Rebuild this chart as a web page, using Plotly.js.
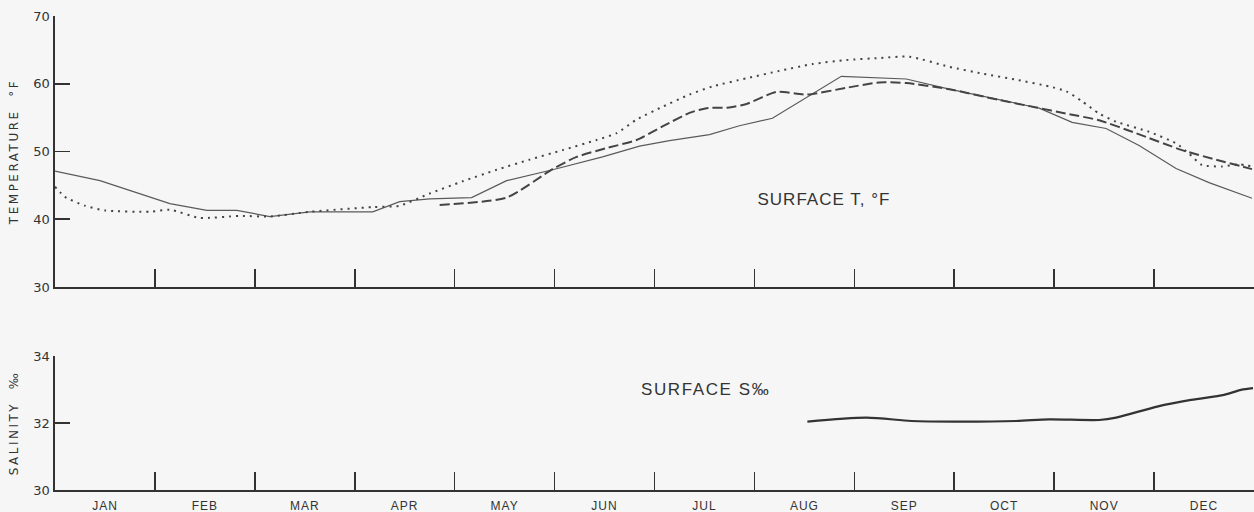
<!DOCTYPE html>
<html>
<head>
<meta charset="utf-8">
<script src="https://cdn.plot.ly/plotly-3.0.1.min.js"></script>
<style>
  html, body { margin: 0; padding: 0; background: #f6f6f6; }
  #chart { width: 1254px; height: 512px; }
</style>
</head>
<body>
<div id="chart"></div>
<script>
// Month labels and positions (month index units, 0 = start of January)
const months = ['JAN','FEB','MAR','APR','MAY','JUN','JUL','AUG','SEP','OCT','NOV','DEC'];
const monthCenters = [0.5,1.5,2.5,3.5,4.5,5.5,6.5,7.5,8.5,9.5,10.5,11.5];
const monthBounds = [1,2,3,4,5,6,7,8,9,10,11];

// Surface temperature, solid thin curve
const solidX = [0.00,0.45,1.15,1.52,1.82,2.15,2.55,3.18,3.45,3.75,4.17,4.52,4.98,5.48,5.85,6.15,6.55,6.85,7.18,7.87,8.52,8.95,9.85,10.18,10.52,10.85,11.22,11.55,11.98];
const solidT = [47.1,45.7,42.3,41.3,41.3,40.4,41.1,41.1,42.6,43.0,43.2,45.7,47.3,49.2,50.8,51.6,52.5,53.8,54.9,61.1,60.7,59.2,56.4,54.3,53.4,50.9,47.5,45.4,43.1];

// Surface temperature, dotted curve
const dotX = [0.00,0.10,0.30,0.50,0.95,1.15,1.45,1.85,2.15,2.55,3.18,3.45,3.75,4.08,4.42,4.75,5.08,5.42,5.62,5.82,6.08,6.35,6.58,6.92,7.25,7.58,7.92,8.25,8.55,8.95,9.28,9.62,9.95,10.12,10.28,10.45,10.62,10.95,11.22,11.35,11.48,11.68,11.85,11.98];
const dotT = [44.8,43.3,42.0,41.3,41.1,41.4,40.2,40.5,40.4,41.1,41.8,42.0,43.8,45.6,47.3,48.8,50.2,51.7,52.7,54.7,56.6,58.4,59.6,60.8,61.9,62.9,63.5,63.8,64.0,62.5,61.5,60.6,59.6,58.9,57.4,55.6,54.4,52.9,51.2,49.7,48.0,47.8,48.1,47.8];

// Surface temperature, dashed curve
const dashX = [3.85,4.52,4.98,5.22,5.52,5.82,6.08,6.35,6.52,6.75,6.92,7.22,7.52,7.92,8.25,8.52,8.95,9.45,9.82,10.12,10.45,10.82,11.28,11.62,11.98];
const dashT = [42.1,43.2,47.4,49.2,50.5,51.7,53.7,55.7,56.4,56.5,57.0,58.8,58.4,59.4,60.2,60.1,59.2,57.6,56.5,55.6,54.6,52.7,50.2,48.8,47.4];

// Surface salinity
const salX = [7.53,8.12,8.57,8.99,9.62,9.95,10.45,10.62,11.03,11.37,11.70,11.87,11.99];
const salS = [32.04,32.16,32.06,32.04,32.06,32.11,32.09,32.16,32.49,32.69,32.84,32.99,33.04];

const tempTicks = [30,40,50,60,70];
const salTicks = [30,32,34];

const ink = '#333';
const font = 'DejaVu Sans, Liberation Sans, sans-serif';
const font2 = 'Liberation Sans, Arial, sans-serif';

const traces = [
  {x: solidX, y: solidT, xaxis:'x', yaxis:'y', mode:'lines',
   line:{color:'#5a5a5a', width:1.2}, hoverinfo:'skip'},
  {x: dotX, y: dotT, xaxis:'x', yaxis:'y', mode:'lines',
   line:{color:'#444', width:2, dash:'2px,5px', shape:'spline', smoothing:0.6}, hoverinfo:'skip'},
  {x: dashX, y: dashT, xaxis:'x', yaxis:'y', mode:'lines',
   line:{color:'#444', width:2, dash:'10px,4px', shape:'spline', smoothing:0.6}, hoverinfo:'skip'},
  {x: salX, y: salS, xaxis:'x2', yaxis:'y2', mode:'lines',
   line:{color:'#333', width:2.2, shape:'spline', smoothing:0.8}, hoverinfo:'skip'}
];

const xCommon = {
  range:[0,12], showgrid:false, zeroline:false, showline:true, linecolor:ink, linewidth:1.6,
  tickmode:'array', tickvals: monthCenters, ticktext: months, ticks:'',
  minor:{tickmode:'array', tickvals: monthBounds, ticks:'inside', ticklen:18, tickwidth:1.6, tickcolor:ink, showgrid:false},
  tickfont:{family:font2, size:12, color:ink}, ticklabelstandoff:4, fixedrange:true
};

const layout = {
  width:1254, height:512,
  margin:{l:0, r:0, t:0, b:0},
  paper_bgcolor:'#f6f6f6', plot_bgcolor:'#f6f6f6',
  showlegend:false,
  xaxis: Object.assign({}, xCommon, {domain:[55/1254, 1], anchor:'y', showticklabels:false}),
  xaxis2: Object.assign({}, xCommon, {domain:[55/1254, 1], anchor:'y2', showticklabels:true}),
  yaxis: {domain:[225/512, 496/512], range:[30,70], anchor:'x',
    tickmode:'array', tickvals: tempTicks, ticks:'inside', ticklen:15, tickwidth:1.6, tickcolor:ink,
    showline:true, linecolor:ink, linewidth:1.6, showgrid:false, zeroline:false,
    tickfont:{family:font, size:13, color:ink}, ticklabelstandoff:1,
    title:{text:'TEMPERATURE  °F', font:{family:font, size:12, color:ink}, standoff:12}, fixedrange:true},
  yaxis2: {domain:[22/512, 156/512], range:[30,34], anchor:'x2',
    tickmode:'array', tickvals: salTicks, ticks:'inside', ticklen:15, tickwidth:1.6, tickcolor:ink,
    showline:true, linecolor:ink, linewidth:1.6, showgrid:false, zeroline:false,
    tickfont:{family:font, size:13, color:ink}, ticklabelstandoff:1,
    title:{text:'SALINITY  ‰', font:{family:font, size:12, color:ink}, standoff:12}, fixedrange:true},
  annotations:[
    {text:'SURFACE T, °F', xref:'x', yref:'y', x:7.70, y:42.85, showarrow:false,
     font:{family:font2, size:17, color:ink}},
    {text:'SURFACE S‰', xref:'x2', yref:'y2', x:6.51, y:33.01, showarrow:false,
     font:{family:font2, size:17, color:ink}}
  ]
};

Plotly.newPlot('chart', traces, layout, {displayModeBar:false, staticPlot:true}).then(function(gd){
  gd.querySelectorAll('.ytitle, .y2title').forEach(function(el){ el.style.letterSpacing = '2.5px'; });
  const ann = gd.querySelectorAll('.annotation-text');
  if (ann[0]) ann[0].style.letterSpacing = '1px';
  if (ann[1]) ann[1].style.letterSpacing = '1.6px';
  gd.querySelectorAll('.x2tick text').forEach(function(el){ el.style.letterSpacing = '1px'; });
});
</script>
</body>
</html>
